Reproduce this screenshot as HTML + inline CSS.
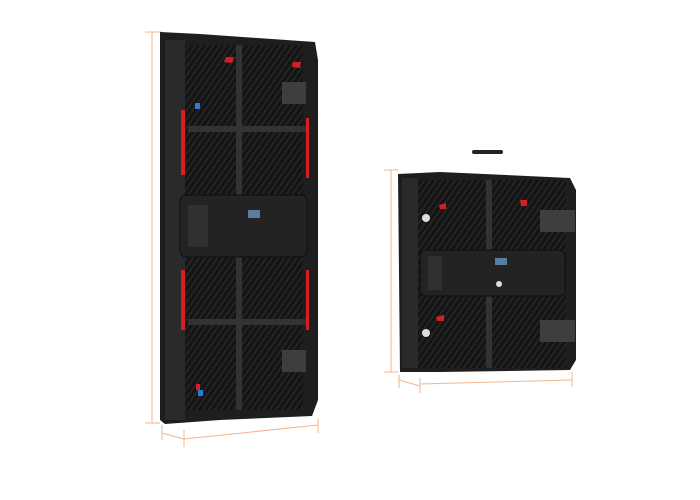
<!DOCTYPE html>
<html><head><meta charset="utf-8"><style>
html,body{margin:0;padding:0;background:#fff;width:700px;height:500px;overflow:hidden}
</style></head><body>
<svg width="700" height="500" viewBox="0 0 700 500" xmlns="http://www.w3.org/2000/svg">
<defs>
<pattern id="h" width="5" height="5" patternUnits="userSpaceOnUse" patternTransform="rotate(35)">
<rect width="5" height="5" fill="#141414"/><rect width="2" height="5" fill="#242424"/>
</pattern>
</defs>
<g stroke="#f4b48a" stroke-width="1" fill="none">
<line x1="152" y1="32" x2="152" y2="423"/><line x1="145" y1="32" x2="162" y2="32"/><line x1="145" y1="423" x2="160" y2="423"/>
<line x1="162" y1="425" x2="162" y2="440"/><line x1="184" y1="430" x2="184" y2="447"/><line x1="318" y1="418" x2="318" y2="433"/>
<line x1="162" y1="433" x2="184" y2="439"/><line x1="184" y1="439" x2="318" y2="425"/>
<line x1="391" y1="170" x2="391" y2="372"/><line x1="384" y1="170" x2="398" y2="170"/><line x1="384" y1="372" x2="398" y2="372"/>
<line x1="399" y1="375" x2="399" y2="388"/><line x1="420" y1="378" x2="420" y2="393"/><line x1="572" y1="372" x2="572" y2="387"/>
<line x1="399" y1="380" x2="420" y2="386"/><line x1="420" y1="384" x2="572" y2="380"/>
</g>
<polygon points="160,32 200,34 315,42 318,60 318,400 312,416 220,420 165,424 160,420" fill="#1e1e1e"/>
<rect x="185" y="45" width="118" height="365" fill="url(#h)"/>
<rect x="165" y="40" width="20" height="380" fill="#2a2a2a"/>
<rect x="236" y="45" width="6" height="365" fill="#333"/>
<rect x="188" y="126" width="118" height="6" fill="#333"/>
<rect x="188" y="319" width="118" height="6" fill="#333"/>
<rect x="180" y="195" width="127" height="62" rx="6" fill="#232323" stroke="#0e0e0e"/>
<rect x="188" y="205" width="20" height="42" fill="#303030"/>
<rect x="248" y="210" width="12" height="8" fill="#5a7ca0"/>
<rect x="282" y="82" width="24" height="22" fill="#3e3e3e"/>
<rect x="282" y="350" width="24" height="22" fill="#3e3e3e"/>
<rect x="181" y="110" width="4" height="65" fill="#d42020"/>
<rect x="306" y="118" width="3" height="60" fill="#d42020"/>
<rect x="181" y="270" width="4" height="60" fill="#d42020"/>
<rect x="306" y="270" width="3" height="60" fill="#d42020"/>
<polygon points="226,57 234,57 232,63 224,62" fill="#d42020"/>
<polygon points="293,62 301,62 300,68 292,67" fill="#d42020"/>
<rect x="195" y="103" width="5" height="6" fill="#2a7ad8"/>
<rect x="198" y="390" width="5" height="6" fill="#2a7ad8"/>
<rect x="196" y="384" width="4" height="6" fill="#d42020"/>
<rect x="472" y="150" width="31" height="4" rx="2" fill="#222"/>
<polygon points="398,174 440,172 570,178 576,190 576,360 570,370 440,372 400,372" fill="#1e1e1e"/>
<rect x="418" y="180" width="148" height="188" fill="url(#h)"/>
<rect x="402" y="178" width="16" height="190" fill="#2a2a2a"/>
<rect x="486" y="180" width="6" height="188" fill="#333"/>
<rect x="420" y="250" width="145" height="46" rx="6" fill="#232323" stroke="#0e0e0e"/>
<rect x="428" y="256" width="14" height="34" fill="#303030"/>
<rect x="495" y="258" width="12" height="7" fill="#5a7ca0"/>
<circle cx="499" cy="284" r="3" fill="#ddd"/>
<rect x="540" y="210" width="35" height="22" fill="#3e3e3e"/>
<rect x="540" y="320" width="35" height="22" fill="#3e3e3e"/>
<polygon points="439,205 446,203 446,209 440,209" fill="#d42020"/>
<polygon points="520,200 527,200 527,206 521,206" fill="#d42020"/>
<polygon points="436,317 444,315 444,321 437,321" fill="#d42020"/>
<circle cx="426" cy="218" r="4" fill="#ddd"/><circle cx="426" cy="333" r="4" fill="#ddd"/>
</svg>
</body></html>
